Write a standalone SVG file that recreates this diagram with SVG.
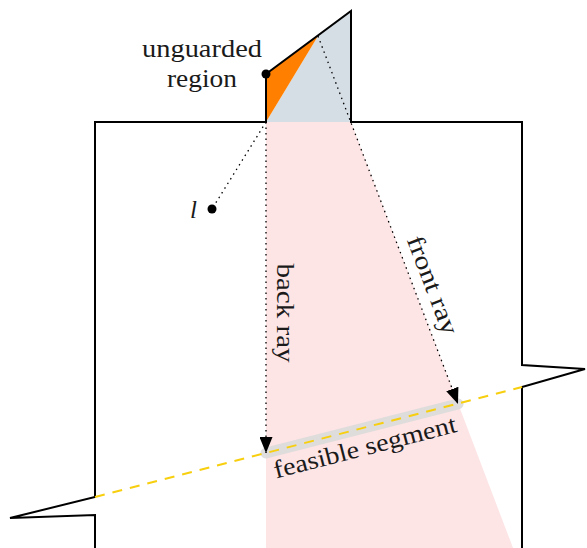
<svg xmlns="http://www.w3.org/2000/svg" width="587" height="548" viewBox="0 0 587 548">
<style>
.t{font-family:"Liberation Serif","Times New Roman",serif;font-size:25px;fill:#1a1a1a}
.dot{stroke:#000;stroke-width:1.3;stroke-dasharray:1.5 4;fill:none}
.wall{fill:none;stroke:#000;stroke-width:2;stroke-linejoin:miter}
</style>
<defs>
<marker id="ah" markerWidth="16" markerHeight="13" viewBox="0 0 16 13" refX="16" refY="6.5" orient="auto" markerUnits="userSpaceOnUse">
<path d="M0,0 L16,6.5 L0,13 Z" fill="#000"/>
</marker>
</defs>
<g id="regions">
<polygon id="visible-region" points="266,122 351,122 513,548 266,548" fill="#fde4e5"/>
<polygon id="guarded-pocket" points="266,122 318,36 351,11 351,122" fill="#d5dee5"/>
<polygon id="unguarded-region" points="266,74 318,36 266,122" fill="#ff8000"/>
</g>
<g id="polygon-outline">
<path class="wall" d="M95,548 L95,515 L10,518 L95,497 L95,122 L266,122 L266,74 L351,11 L351,122 L522,122 L522,365 L585,369 L522,387 L522,548"/>
</g>
<g id="feasible-segment">
<line x1="266" y1="453" x2="458" y2="404" stroke="#dcdcdc" stroke-width="11" stroke-linecap="round" opacity="0.9"/>
</g>
<g id="connectors">
<line id="chord" x1="95" y1="497" x2="522" y2="387" stroke="#f7cf0e" stroke-width="2" stroke-dasharray="10 8"/>
<line id="line-l" class="dot" x1="266" y1="122" x2="212" y2="209"/>
<line id="back-ray" class="dot" x1="266" y1="122" x2="266" y2="453" marker-end="url(#ah)"/>
<line id="front-ray" class="dot" x1="318" y1="36" x2="458" y2="404" marker-end="url(#ah)"/>
</g>
<g id="point-l">
<circle cx="212" cy="209" r="4.5" fill="#000"/>
<text class="t" x="197" y="218" text-anchor="end" font-style="italic">l</text>
</g>
<g id="unguarded-point">
<circle cx="266" cy="74" r="4.5" fill="#000"/>
<text class="t" x="202" y="57" text-anchor="middle" textLength="120" lengthAdjust="spacingAndGlyphs">unguarded</text>
<text class="t" x="202" y="87" text-anchor="middle" textLength="70" lengthAdjust="spacingAndGlyphs">region</text>
</g>
<g id="labels">
<text class="t" transform="translate(277,313) rotate(90)" text-anchor="middle" textLength="99" lengthAdjust="spacingAndGlyphs">back ray</text>
<text class="t" transform="translate(425,288) rotate(69.2)" text-anchor="middle" textLength="104" lengthAdjust="spacingAndGlyphs">front ray</text>
<text class="t" transform="translate(367,455) rotate(-14.4)" text-anchor="middle" textLength="188" lengthAdjust="spacingAndGlyphs">feasible segment</text>
</g>
</svg>
